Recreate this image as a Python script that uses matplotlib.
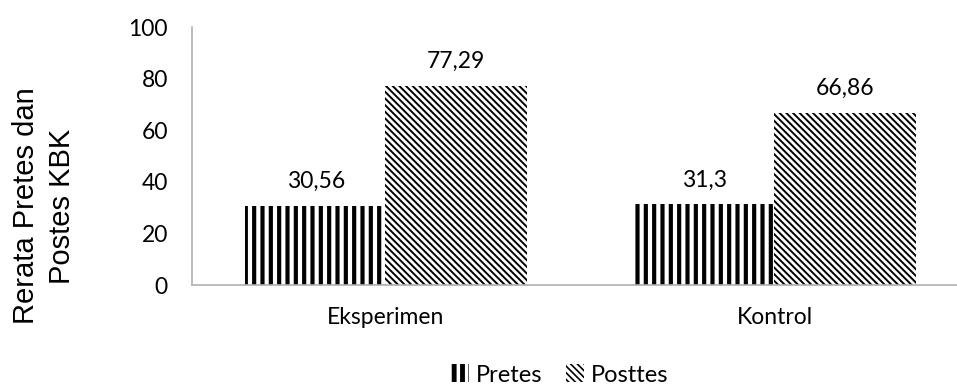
import matplotlib
matplotlib.use('Agg')
import matplotlib.pyplot as plt
import matplotlib.patches as mpatches
import numpy as np

groups = ['Eksperimen', 'Kontrol']
pretes = [30.56, 31.3]
posttes = [77.29, 66.86]
pretes_lbl = ['30,56', '31,3']
posttes_lbl = ['77,29', '66,86']
yticks = [0, 20, 40, 60, 80, 100]

plt.rcParams['font.family'] = 'Lato'

fig = plt.figure(figsize=(9.57, 3.85), dpi=100)
ax = fig.add_axes([191.5 / 957, 1 - 285 / 385, 1 - 191.5 / 957, (285 - 27) / 385])

x = np.arange(len(groups))
w = 0.363
off = 0.18

VHATCH = '||'
DHATCH = '\\' * 5


def set_hlw(p, lw):
    if hasattr(p, 'set_hatch_linewidth'):
        p.set_hatch_linewidth(lw)


def hatched(xs, vals, hatch, lw):
    with plt.rc_context({'hatch.linewidth': lw}):
        bars = ax.bar(xs, vals, w, color='white', edgecolor='black',
                      linewidth=0, hatch=hatch, zorder=2)
        for b in bars:
            set_hlw(b, lw)
    return bars


b1 = hatched(x - off, pretes, VHATCH, 3.0)
b2 = hatched(x + off, posttes, DHATCH, 1.4)

for bars, labels in ((b1, pretes_lbl), (b2, posttes_lbl)):
    for b, t in zip(bars, labels):
        ax.annotate(t, (b.get_x() + b.get_width() / 2, b.get_height()),
                    xytext=(0, 10), textcoords='offset points',
                    ha='center', va='bottom', fontsize=16.5)

ax.set_xlim(-0.5, 1.468)
ax.set_ylim(0, 100)
ax.set_yticks(yticks)
ax.set_xticks(x)
ax.set_xticklabels(groups)
ax.tick_params(axis='both', length=0, labelsize=16.5)
ax.tick_params(axis='y', pad=17)
ax.tick_params(axis='x', pad=16)
for s in ('top', 'right'):
    ax.spines[s].set_visible(False)
for s in ('left', 'bottom'):
    ax.spines[s].set_color('#b0b0b0')
    ax.spines[s].set_linewidth(1.2)

fig.text(44 / 957, 1 - 206 / 385, 'Rerata Pretes dan\nPostes KBK', rotation=90,
         ha='center', va='center', fontsize=21, family='Liberation Sans',
         linespacing=1.4)

h1 = mpatches.Patch(facecolor='white', edgecolor='black', linewidth=0,
                    hatch=VHATCH, label='Pretes')
h2 = mpatches.Patch(facecolor='white', edgecolor='black', linewidth=0,
                    hatch=DHATCH, label='Posttes')
leg = fig.legend(handles=[h1, h2], loc='center',
                 bbox_to_anchor=(560 / 957, 1 - 375 / 385),
                 ncol=2, frameon=False, fontsize=17, handlelength=0.75,
                 handleheight=0.8, handletextpad=0.3, columnspacing=1.0)
for hnd, lw in zip(leg.legend_handles, (3.5, 1.2)):
    set_hlw(hnd, lw)

fig.savefig('out.png', dpi=100)
